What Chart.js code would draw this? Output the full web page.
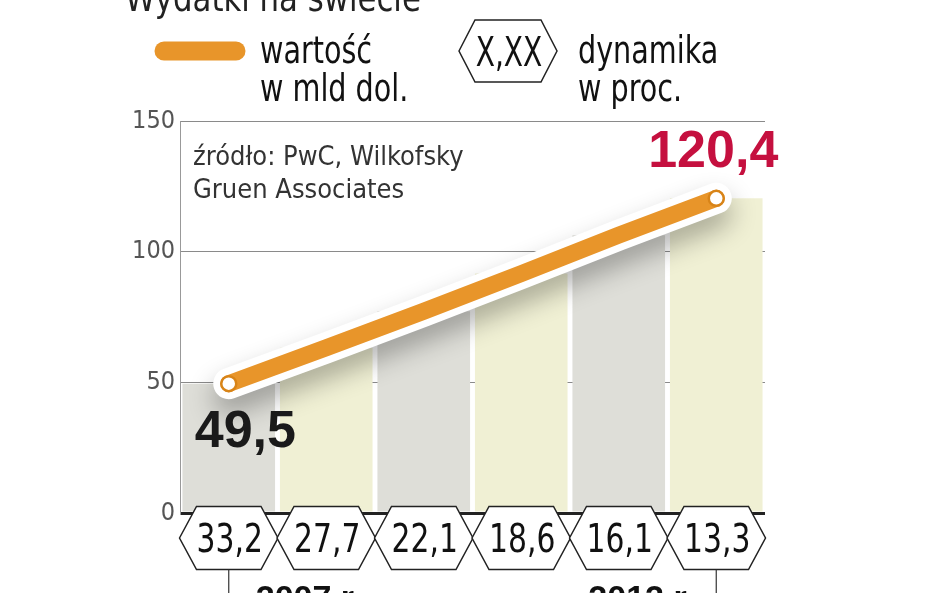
<!DOCTYPE html>
<html>
<head>
<meta charset="utf-8">
<script src="https://cdn.jsdelivr.net/npm/chart.js@4"></script>
<style>
html,body{margin:0;padding:0;background:#fff;}
#wrap{position:relative;width:948px;height:593px;overflow:hidden;}
canvas{display:block;}
</style>
</head>
<body>
<div id="wrap"><canvas id="c" width="948" height="593"></canvas></div>
<script>
// ---- data ----
const categories = ['2007', '2008', '2009', '2010', '2011', '2012'];
const values = [49.5, 63.2, 77.2, 91.6, 106.3, 120.4];
const growth = ['33,2', '27,7', '22,1', '18,6', '16,1', '13,3'];
const yTicks = [0, 50, 100, 150];
const yearLabels = ['2007 r.', '', '', '', '', '2012 r.'];
const endLabels = ['49,5', '', '', '', '', '120,4'];
const titleText = 'Wydatki na świecie';
const legendValue = ['wartość', 'w mld dol.'];
const legendGrowth = ['dynamika', 'w proc.'];
const legendHex = 'X,XX';
const sourceLines = ['źródło: PwC, Wilkofsky', 'Gruen Associates'];

const COND = '"DejaVu Sans Condensed","Liberation Sans Narrow",sans-serif';
const ORANGE = '#e8952a';
const barColors = categories.map((c, i) => i % 2 === 0 ? '#deded8' : '#f0f0d4');

function hexPath(ctx, cx, cy, w, h, inset) {
  const l = cx - w / 2, r = cx + w / 2, t = cy - h / 2, b = cy + h / 2;
  ctx.beginPath();
  ctx.moveTo(l, cy);
  ctx.lineTo(l + inset, t);
  ctx.lineTo(r - inset, t);
  ctx.lineTo(r, cy);
  ctx.lineTo(r - inset, b);
  ctx.lineTo(l + inset, b);
  ctx.closePath();
}

function sText(ctx, text, x, y, sx, align) {
  ctx.save();
  ctx.translate(x, y);
  ctx.scale(sx, 1);
  ctx.textAlign = align;
  ctx.fillText(text, 0, 0);
  ctx.restore();
}

const shadowPlugin = {
  id: 'shadow',
  beforeDatasetDraw(chart, args) {
    if (args.index === 1) {
      const ctx = chart.ctx;
      ctx.save();
      ctx.shadowColor = 'rgba(0,0,0,0.3)';
      ctx.shadowBlur = 26;
      ctx.shadowOffsetX = 0;
      ctx.shadowOffsetY = 14;
    }
  },
  afterDatasetDraw(chart, args) {
    if (args.index === 1) chart.ctx.restore();
  }
};

const decoPlugin = {
  id: 'deco',
  afterDraw(chart) {
    const ctx = chart.ctx;
    const xs = chart.scales.x, ys = chart.scales.y;
    const area = chart.chartArea;
    ctx.save();
    ctx.textBaseline = 'alphabetic';
    // title
    ctx.fillStyle = '#222';
    ctx.font = '38px ' + COND;
    sText(ctx, titleText, 125, 11, 0.9, 'left');
    // legend pill
    ctx.strokeStyle = ORANGE;
    ctx.lineCap = 'round';
    ctx.lineWidth = 19;
    ctx.beginPath();
    ctx.moveTo(164, 51);
    ctx.lineTo(236, 51);
    ctx.stroke();
    ctx.fillStyle = '#111';
    ctx.font = '37px ' + COND;
    sText(ctx, legendValue[0], 260, 63, 0.86, 'left');
    sText(ctx, legendValue[1], 260, 101, 0.86, 'left');
    sText(ctx, legendGrowth[0], 578, 63, 0.86, 'left');
    sText(ctx, legendGrowth[1], 578, 101, 0.86, 'left');
    // legend hexagon
    ctx.lineWidth = 1.5;
    ctx.strokeStyle = '#222';
    ctx.fillStyle = '#fff';
    hexPath(ctx, 508, 51, 98, 62, 16);
    ctx.fill(); ctx.stroke();
    ctx.fillStyle = '#111';
    ctx.font = '40px ' + COND;
    sText(ctx, legendHex, 509, 66, 0.78, 'center');
    // source
    ctx.fillStyle = '#333';
    ctx.font = '27px ' + COND;
    sText(ctx, sourceLines[0], 193, 165, 1, 'left');
    sText(ctx, sourceLines[1], 193, 198, 1, 'left');
    // end labels
    const meta = chart.getDatasetMeta(2);
    endLabels.forEach((lab, i) => {
      if (!lab) return;
      const p = meta.data[i];
      ctx.font = 'bold 52px "Liberation Sans","DejaVu Sans",sans-serif';
      if (i === 0) {
        ctx.fillStyle = '#1a1a1a';
        sText(ctx, lab, p.x - 34, p.y + 63, 1, 'left');
      } else {
        ctx.fillStyle = '#c5103f';
        sText(ctx, lab, p.x - 3, p.y - 31, 1, 'center');
      }
    });
    // growth hexagons
    const step = xs.getPixelForValue(1) - xs.getPixelForValue(0);
    const hy = area.bottom + 25;
    growth.forEach((g, i) => {
      const cx = xs.getPixelForValue(i);
      ctx.lineWidth = 1.5;
      ctx.strokeStyle = '#222';
      ctx.fillStyle = '#fff';
      hexPath(ctx, cx, hy, step + 1, 63, 17);
      ctx.fill(); ctx.stroke();
    });
    growth.forEach((g, i) => {
      const cx = xs.getPixelForValue(i);
      ctx.fillStyle = '#111';
      ctx.font = '39px ' + COND;
      sText(ctx, g, cx + 1, hy + 14, 0.85, 'center');
    });
    // year ticks
    yearLabels.forEach((lab, i) => {
      if (!lab) return;
      const cx = xs.getPixelForValue(i);
      ctx.strokeStyle = '#333';
      ctx.lineWidth = 1.2;
      ctx.beginPath();
      ctx.moveTo(cx, hy + 32);
      ctx.lineTo(cx, 600);
      ctx.stroke();
      ctx.fillStyle = '#111';
      ctx.font = 'bold 34px "Liberation Sans","DejaVu Sans",sans-serif';
      if (i === 0) sText(ctx, lab, cx + 27, 609, 1, 'left');
      else sText(ctx, lab, cx - 22, 609, 1, 'right');
    });
    ctx.restore();
  }
};

new Chart(document.getElementById('c'), {
  data: {
    labels: categories,
    datasets: [
      {
        type: 'bar',
        data: values,
        backgroundColor: barColors,
        borderWidth: 0,
        barPercentage: 0.95,
        categoryPercentage: 1,
        order: 3
      },
      {
        type: 'line',
        data: values,
        borderColor: '#ffffff',
        borderWidth: 31,
        borderCapStyle: 'round',
        borderJoinStyle: 'round',
        pointRadius: 0,
        tension: 0,
        clip: false,
        order: 2
      },
      {
        type: 'line',
        data: values,
        borderColor: ORANGE,
        borderWidth: 17,
        borderCapStyle: 'round',
        borderJoinStyle: 'round',
        pointRadius: values.map((v, i) => (i === 0 || i === values.length - 1) ? 7.5 : 0),
        pointBackgroundColor: '#fff',
        pointBorderColor: '#d88418',
        pointBorderWidth: 2.5,
        tension: 0,
        clip: false,
        order: 1
      }
    ]
  },
  options: {
    responsive: false,
    animation: false,
    events: [],
    layout: { padding: { left: 110, right: 183, top: 121, bottom: 80 } },
    plugins: { legend: { display: false }, tooltip: { enabled: false } },
    scales: {
      x: {
        type: 'category',
        display: false,
        offset: true,
        grid: { display: false }
      },
      y: {
        min: 0,
        max: 150,
        afterFit(scale) { scale.width = 70; },
        afterBuildTicks(scale) { scale.ticks = yTicks.map(v => ({ value: v })); },
        border: { display: true, color: '#999', width: 1 },
        grid: {
          color: ctx => ctx.tick && ctx.tick.value === 0 ? '#222' : '#8a8a8a',
          lineWidth: ctx => ctx.tick && ctx.tick.value === 0 ? 3 : 1,
          drawTicks: false
        },
        ticks: {
          padding: 5,
          color: '#555',
          font: { size: 25, family: COND }
        }
      }
    }
  },
  plugins: [shadowPlugin, decoPlugin]
});
</script>
</body>
</html>
